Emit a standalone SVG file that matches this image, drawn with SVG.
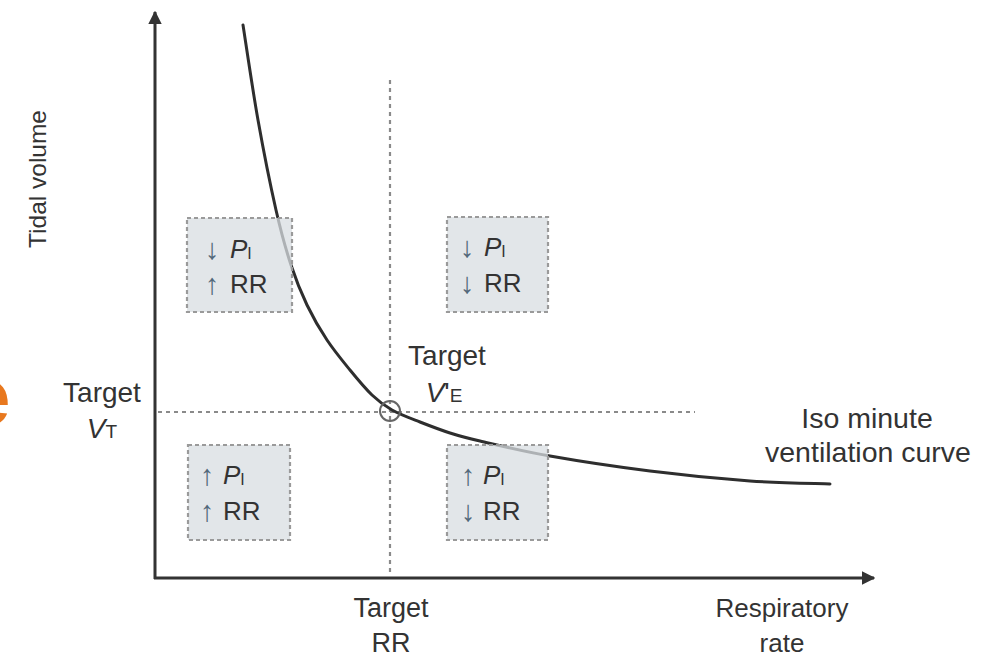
<svg xmlns="http://www.w3.org/2000/svg" width="987" height="660" viewBox="0 0 987 660">
  <style>
    text { font-family: "Liberation Sans", Arial, sans-serif; fill: #333; }
    .box { fill: #d8dde2; fill-opacity: 0.75; stroke: #9a9a9a; stroke-width: 2.2; stroke-dasharray: 4 3; }
    .bx { font-size: 26px; }
    .arr { fill: #52697a; font-size: 29px; text-anchor: middle; }
    .it { font-style: italic; }
    .sub { font-size: 16px; }
    .dash { stroke: #8a8a8a; stroke-width: 2.2; stroke-dasharray: 4 4; fill: none; }
    .axis { stroke: #333; stroke-width: 3; fill: none; }
  </style>
  <defs>
    <marker id="ah" viewBox="0 0 10 10" refX="9" refY="5" markerWidth="4.5" markerHeight="4.5" orient="auto" markerUnits="strokeWidth">
      <path d="M0,0 L10,5 L0,10 z" fill="#333"/>
    </marker>
  </defs>
  <rect width="987" height="660" fill="#ffffff"/>
  <text x="-34" y="424" style="font-family:'Liberation Sans',Arial,sans-serif;font-size:80px;font-weight:bold;fill:#e8781e">e</text>

  <g id="connectors">
    <line class="axis" x1="155" y1="579" x2="155" y2="12" marker-end="url(#ah)"/>
    <line class="axis" x1="154" y1="578" x2="874" y2="578" marker-end="url(#ah)"/>
    <line class="dash" x1="390" y1="80" x2="390" y2="576"/>
    <line class="dash" x1="158" y1="412" x2="695" y2="412"/>
    <path id="curve" d="M243,25 C245.5,40.8 252.5,89.2 258,120 C263.5,150.8 270.5,185.8 276,210 C281.5,234.2 285.8,249.2 291,265 C296.2,280.8 301,292.5 307,305 C313,317.5 319.8,329.2 327,340 C334.2,350.8 342.5,360.8 350,370 C357.5,379.2 365,388.3 372,395 C379,401.7 384,405.5 392,410 C400,414.5 410.3,418.2 420,422 C429.7,425.8 440,429.8 450,433 C460,436.2 463.3,437.2 480,441 C496.7,444.8 521.7,451 550,456 C578.3,461 616.7,466.8 650,471 C683.3,475.2 720,478.8 750,481 C780,483.2 816.7,483.5 830,484" fill="none" stroke="#2e2e2e" stroke-width="3" stroke-linecap="round"/>
    <circle cx="390" cy="411" r="10" fill="none" stroke="#666" stroke-width="2"/>
  </g>

  <g id="box-top-left">
    <rect class="box" x="187" y="218" width="105" height="94"/>
    <text class="arr" x="212" y="259">↓</text>
    <text class="bx" x="230" y="258"><tspan class="it">P</tspan><tspan class="sub" dy="1">I</tspan></text>
    <text class="arr" x="212" y="294">↑</text>
    <text class="bx" x="230" y="293">RR</text>
  </g>
  <g id="box-top-right">
    <rect class="box" x="447" y="217" width="101" height="95"/>
    <text class="arr" x="467" y="257">↓</text>
    <text class="bx" x="484" y="256"><tspan class="it">P</tspan><tspan class="sub" dy="1">I</tspan></text>
    <text class="arr" x="467" y="293">↓</text>
    <text class="bx" x="484" y="292">RR</text>
  </g>
  <g id="box-bottom-left">
    <rect class="box" x="188" y="445" width="102" height="95"/>
    <text class="arr" x="207" y="485">↑</text>
    <text class="bx" x="223" y="484"><tspan class="it">P</tspan><tspan class="sub" dy="1">I</tspan></text>
    <text class="arr" x="207" y="521">↑</text>
    <text class="bx" x="223" y="520">RR</text>
  </g>
  <g id="box-bottom-right">
    <rect class="box" x="447" y="445" width="101" height="95"/>
    <text class="arr" x="468" y="485">↑</text>
    <text class="bx" x="483" y="484"><tspan class="it">P</tspan><tspan class="sub" dy="1">I</tspan></text>
    <text class="arr" x="468" y="521">↓</text>
    <text class="bx" x="483" y="520">RR</text>
  </g>

  <g id="label-tidal-volume">
    <text transform="translate(46,179) rotate(-90)" text-anchor="middle" font-size="24.5">Tidal volume</text>
  </g>
  <g id="label-target-vt">
    <text x="102" y="402" text-anchor="middle" font-size="28">Target</text>
    <text x="102" y="438" text-anchor="middle" font-size="28"><tspan class="it">V</tspan><tspan font-size="19">T</tspan></text>
  </g>
  <g id="label-target-ve">
    <text x="447" y="365" text-anchor="middle" font-size="28">Target</text>
    <text x="444" y="402" text-anchor="middle" font-size="28"><tspan class="it">V</tspan>'<tspan font-size="19">E</tspan></text>
  </g>
  <g id="label-target-rr">
    <text x="391" y="617" text-anchor="middle" font-size="27">Target</text>
    <text x="391" y="652" text-anchor="middle" font-size="27">RR</text>
  </g>
  <g id="label-respiratory-rate">
    <text x="782" y="617" text-anchor="middle" font-size="26">Respiratory</text>
    <text x="782" y="652" text-anchor="middle" font-size="26">rate</text>
  </g>
  <g id="label-iso">
    <text x="867" y="428" text-anchor="middle" font-size="28.5">Iso minute</text>
    <text x="868" y="462" text-anchor="middle" font-size="28.5">ventilation curve</text>
  </g>
</svg>
